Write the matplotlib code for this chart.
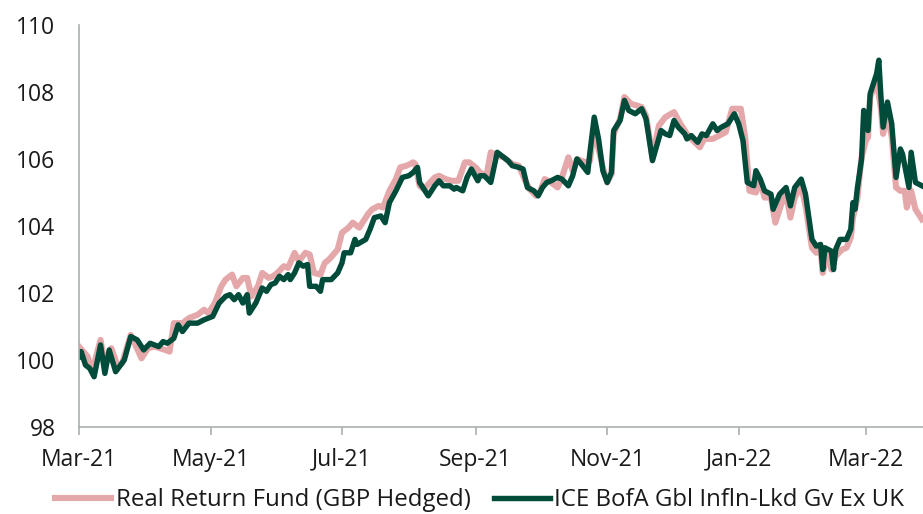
import matplotlib.pyplot as plt
import matplotlib.dates as mdates
import pandas as pd

plt.rcParams['font.family'] = ['Open Sans', 'DejaVu Sans']

# ICE BofA Gbl Infln-Lkd Gv Ex UK (rebased to 100)
index_dates = [
    "2021-03-01", "2021-03-02", "2021-03-04", "2021-03-06", "2021-03-08", "2021-03-11",
    "2021-03-13", "2021-03-15", "2021-03-18", "2021-03-22", "2021-03-25", "2021-03-28",
    "2021-03-31", "2021-04-03", "2021-04-07", "2021-04-09", "2021-04-11", "2021-04-14",
    "2021-04-16", "2021-04-18", "2021-04-21", "2021-04-25", "2021-04-28", "2021-05-02",
    "2021-05-05", "2021-05-08", "2021-05-10", "2021-05-12", "2021-05-14", "2021-05-16",
    "2021-05-18", "2021-05-19", "2021-05-22", "2021-05-25", "2021-05-27", "2021-05-29",
    "2021-05-31", "2021-06-02", "2021-06-04", "2021-06-06", "2021-06-07", "2021-06-09",
    "2021-06-11", "2021-06-13", "2021-06-15", "2021-06-16", "2021-06-19", "2021-06-21",
    "2021-06-22", "2021-06-26", "2021-06-29", "2021-07-01", "2021-07-02", "2021-07-05",
    "2021-07-07", "2021-07-08", "2021-07-12", "2021-07-14", "2021-07-16", "2021-07-19",
    "2021-07-21", "2021-07-23", "2021-07-26", "2021-07-29", "2021-08-01", "2021-08-03",
    "2021-08-05", "2021-08-06", "2021-08-10", "2021-08-13", "2021-08-15", "2021-08-17",
    "2021-08-20", "2021-08-22", "2021-08-23", "2021-08-26", "2021-08-28", "2021-08-30",
    "2021-09-02", "2021-09-03", "2021-09-05", "2021-09-08", "2021-09-11", "2021-09-14",
    "2021-09-16", "2021-09-18", "2021-09-21", "2021-09-23", "2021-09-25", "2021-09-28",
    "2021-09-30", "2021-10-02", "2021-10-04", "2021-10-06", "2021-10-09", "2021-10-11",
    "2021-10-14", "2021-10-16", "2021-10-18", "2021-10-20", "2021-10-23", "2021-10-24",
    "2021-10-26", "2021-10-28", "2021-10-30", "2021-11-01", "2021-11-03", "2021-11-04",
    "2021-11-07", "2021-11-09", "2021-11-11", "2021-11-14", "2021-11-17", "2021-11-19",
    "2021-11-20", "2021-11-22", "2021-11-24", "2021-11-26", "2021-11-28", "2021-11-30",
    "2021-12-02", "2021-12-04", "2021-12-07", "2021-12-08", "2021-12-10", "2021-12-13",
    "2021-12-15", "2021-12-17", "2021-12-20", "2021-12-22", "2021-12-24", "2021-12-27",
    "2021-12-29", "2021-12-30", "2022-01-01", "2022-01-03", "2022-01-05", "2022-01-08",
    "2022-01-09", "2022-01-11", "2022-01-13", "2022-01-16", "2022-01-17", "2022-01-20",
    "2022-01-23", "2022-01-25", "2022-01-27", "2022-01-30", "2022-02-01", "2022-02-04",
    "2022-02-06", "2022-02-08", "2022-02-09", "2022-02-10", "2022-02-13", "2022-02-14",
    "2022-02-15", "2022-02-17", "2022-02-20", "2022-02-22", "2022-02-23", "2022-02-24",
    "2022-02-25", "2022-02-27", "2022-02-28", "2022-03-02", "2022-03-03", "2022-03-06",
    "2022-03-07", "2022-03-08", "2022-03-09", "2022-03-11", "2022-03-13", "2022-03-15",
    "2022-03-17", "2022-03-18", "2022-03-21", "2022-03-22", "2022-03-24", "2022-03-27",
]
index_values = [
    100.1, 100.25, 99.85, 99.75, 99.5, 100.45,
    99.6, 100.3, 99.65, 100.0, 100.7, 100.6,
    100.3, 100.5, 100.4, 100.55, 100.5, 100.65,
    101.05, 100.85, 101.1, 101.1, 101.2, 101.3,
    101.7, 101.9, 101.95, 101.8, 101.95, 101.7,
    101.95, 101.4, 101.7, 102.15, 102.05, 102.25,
    102.3, 102.5, 102.4, 102.55, 102.4, 102.6,
    102.9, 102.8, 102.85, 102.2, 102.2, 102.05,
    102.4, 102.4, 102.6, 102.9, 103.2, 103.2,
    103.6, 103.45, 103.6, 103.9, 104.25, 104.3,
    104.1, 104.7, 105.05, 105.45, 105.5, 105.6,
    105.75, 105.3, 104.9, 105.2, 105.35, 105.2,
    105.2, 105.1, 105.15, 105.05, 105.45, 105.7,
    105.35, 105.5, 105.5, 105.3, 106.2, 106.05,
    105.95, 105.8, 105.75, 105.7, 105.15, 105.05,
    104.9, 105.15, 105.3, 105.35, 105.45, 105.4,
    105.2, 105.5, 106.0, 105.85, 105.6, 106.2,
    107.25, 106.6, 105.65, 105.3, 105.6, 106.85,
    107.15, 107.75, 107.45, 107.35, 107.5, 107.2,
    106.8, 105.95, 106.4, 106.85, 106.75, 106.7,
    107.15, 106.95, 106.75, 106.6, 106.7, 106.5,
    106.75, 106.7, 107.05, 106.85, 106.95, 107.05,
    107.25, 107.35, 107.05, 106.55, 105.3, 105.2,
    105.65, 105.4, 105.05, 104.95, 104.5, 104.95,
    105.15, 104.6, 105.15, 105.4, 104.95, 103.6,
    103.4, 103.45, 102.7, 103.35, 103.25, 102.7,
    103.3, 103.6, 103.6, 103.9, 104.7, 104.5,
    105.1, 106.0, 107.45, 106.85, 107.95, 108.55,
    108.95, 107.85, 106.95, 107.7, 107.05, 105.45,
    106.3, 106.15, 105.15, 106.2, 105.3, 105.2,
]

# Real Return Fund (GBP Hedged)
fund_dates = [
    "2021-03-01", "2021-03-05", "2021-03-07", "2021-03-11", "2021-03-13", "2021-03-16",
    "2021-03-19", "2021-03-21", "2021-03-25", "2021-03-30", "2021-04-02", "2021-04-05",
    "2021-04-10", "2021-04-12", "2021-04-14", "2021-04-18", "2021-04-21", "2021-04-25",
    "2021-04-28", "2021-04-30", "2021-05-03", "2021-05-06", "2021-05-08", "2021-05-11",
    "2021-05-13", "2021-05-16", "2021-05-18", "2021-05-20", "2021-05-23", "2021-05-25",
    "2021-05-28", "2021-05-30", "2021-06-01", "2021-06-04", "2021-06-06", "2021-06-09",
    "2021-06-11", "2021-06-14", "2021-06-16", "2021-06-18", "2021-06-21", "2021-06-23",
    "2021-06-25", "2021-06-29", "2021-07-01", "2021-07-04", "2021-07-06", "2021-07-09",
    "2021-07-13", "2021-07-15", "2021-07-18", "2021-07-20", "2021-07-23", "2021-07-26",
    "2021-07-28", "2021-07-31", "2021-08-03", "2021-08-04", "2021-08-06", "2021-08-08",
    "2021-08-13", "2021-08-15", "2021-08-18", "2021-08-21", "2021-08-24", "2021-08-27",
    "2021-08-29", "2021-09-01", "2021-09-03", "2021-09-06", "2021-09-08", "2021-09-11",
    "2021-09-14", "2021-09-18", "2021-09-21", "2021-09-24", "2021-09-26", "2021-09-29",
    "2021-10-01", "2021-10-03", "2021-10-06", "2021-10-09", "2021-10-11", "2021-10-14",
    "2021-10-16", "2021-10-18", "2021-10-22", "2021-10-24", "2021-10-26", "2021-10-28",
    "2021-10-30", "2021-11-01", "2021-11-03", "2021-11-04", "2021-11-07", "2021-11-09",
    "2021-11-12", "2021-11-17", "2021-11-19", "2021-11-20", "2021-11-22", "2021-11-25",
    "2021-11-28", "2021-12-02", "2021-12-05", "2021-12-08", "2021-12-10", "2021-12-14",
    "2021-12-16", "2021-12-20", "2021-12-23", "2021-12-26", "2021-12-29", "2022-01-02",
    "2022-01-04", "2022-01-06", "2022-01-09", "2022-01-11", "2022-01-13", "2022-01-16",
    "2022-01-18", "2022-01-21", "2022-01-23", "2022-01-25", "2022-01-27", "2022-01-30",
    "2022-02-01", "2022-02-04", "2022-02-06", "2022-02-08", "2022-02-09", "2022-02-11",
    "2022-02-13", "2022-02-15", "2022-02-18", "2022-02-20", "2022-02-22", "2022-02-23",
    "2022-02-25", "2022-02-27", "2022-03-01", "2022-03-02", "2022-03-03", "2022-03-06",
    "2022-03-08", "2022-03-09", "2022-03-11", "2022-03-13", "2022-03-15", "2022-03-17",
    "2022-03-19", "2022-03-20", "2022-03-22", "2022-03-24", "2022-03-27",
]
fund_values = [
    100.4, 100.1, 99.65, 100.6, 99.8, 100.35,
    99.8, 99.9, 100.75, 100.05, 100.35, 100.4,
    100.3, 100.25, 101.1, 101.1, 101.25, 101.35,
    101.5, 101.4, 101.7, 102.2, 102.4, 102.55,
    102.2, 102.45, 102.45, 101.9, 102.2, 102.6,
    102.45, 102.5, 102.6, 102.8, 102.75, 103.2,
    102.95, 103.2, 103.15, 102.6, 102.55, 102.9,
    103.0, 103.3, 103.8, 103.95, 104.1, 103.95,
    104.35, 104.5, 104.6, 104.55, 105.05, 105.4,
    105.75, 105.8, 105.9, 105.85, 105.2, 105.1,
    105.45, 105.5, 105.4, 105.35, 105.35, 105.9,
    105.9, 105.75, 105.6, 105.5, 106.2, 106.1,
    106.05, 105.85, 105.8, 105.35, 105.1, 104.9,
    105.05, 105.4, 105.3, 105.15, 105.45, 106.05,
    105.65, 106.0, 105.9, 105.95, 106.9, 106.3,
    105.75, 105.3, 105.55, 106.75, 107.2, 107.85,
    107.65, 107.55, 107.3, 106.9, 106.05, 107.0,
    107.25, 107.4, 107.05, 106.75, 106.6, 106.35,
    106.6, 106.6, 106.7, 106.8, 107.5, 107.5,
    106.65, 105.05, 105.0, 105.35, 104.85, 104.85,
    104.1, 104.7, 104.95, 104.25, 104.85, 105.2,
    104.6, 103.35, 103.2, 103.3, 102.6, 103.2,
    102.7, 103.1, 103.3, 103.35, 103.65, 104.25,
    104.8, 106.05, 106.55, 106.65, 107.85, 108.35,
    107.5, 106.75, 107.35, 106.65, 105.15, 105.05,
    105.05, 104.55, 105.05, 104.5, 104.2,
]

labels = ["Real Return Fund (GBP Hedged)", "ICE BofA Gbl Infln-Lkd Gv Ex UK"]

fund = pd.Series(fund_values, index=pd.to_datetime(fund_dates))
index = pd.Series(index_values, index=pd.to_datetime(index_dates))

fig = plt.figure(figsize=(9.23, 5.14), dpi=100)
ax = fig.add_axes([79 / 923, 87 / 514, 1 - 79 / 923, 402 / 514])

ax.plot(fund.index, fund.values, color="#E5A8AA", linewidth=4.4, label=labels[0],
        solid_joinstyle="round")
ax.plot(index.index, index.values, color="#004B3A", linewidth=3.9, label=labels[1],
        solid_joinstyle="round")

ax.set_ylim(98, 110)
ax.set_yticks(range(98, 111, 2))
ax.set_xlim(pd.Timestamp("2021-03-01"), pd.Timestamp("2022-03-27 12:00"))
ax.xaxis.set_major_locator(mdates.MonthLocator(bymonth=[1, 3, 5, 7, 9, 11]))
ax.xaxis.set_major_formatter(mdates.DateFormatter("%b-%y"))

for s in ["top", "right"]:
    ax.spines[s].set_visible(False)
ax.spines["left"].set_color("#A9B0AD")
ax.spines["bottom"].set_color("#A9B0AD")
ax.spines["left"].set_linewidth(1.2)
ax.spines["bottom"].set_linewidth(1.2)

ax.tick_params(axis="y", length=0, pad=17, labelsize=16.5, labelcolor="#1a1a1a")
ax.tick_params(axis="x", length=6, width=1.2, color="#A9B0AD", pad=9,
               labelsize=16.5, labelcolor="#1a1a1a")

fig.legend(loc="center", bbox_to_anchor=(0.52, 14 / 514), ncol=2, frameon=False,
           fontsize=17.3, handlelength=2.3, handletextpad=0.2, columnspacing=1.0,
           labelcolor="#1a1a1a")

fig.savefig("out.png", dpi=100)
